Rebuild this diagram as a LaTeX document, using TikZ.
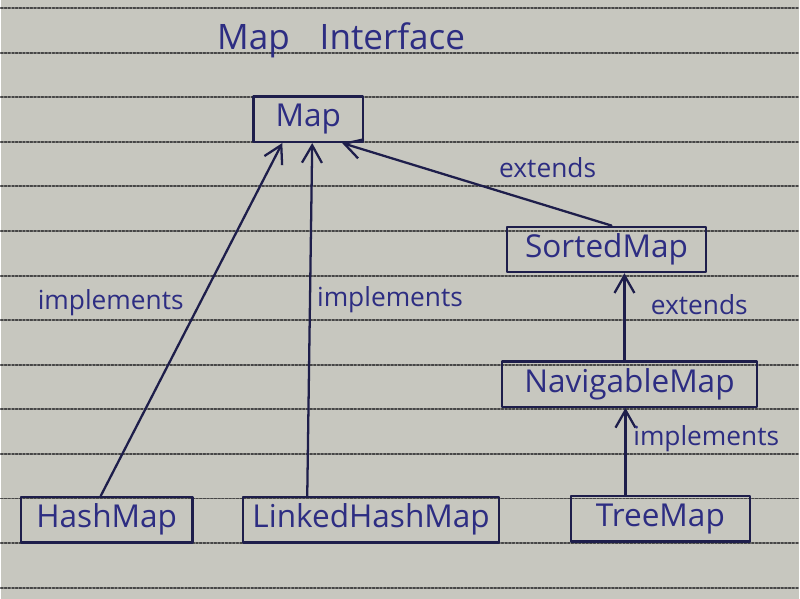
\documentclass[tikz,border=0pt]{standalone}
\usepackage{fontspec}
\setmainfont{Open Sans}
\usetikzlibrary{arrows.meta}
\definecolor{paper}{RGB}{199,199,191}
\definecolor{ink}{RGB}{30,30,75}
\definecolor{pen}{RGB}{45,45,130}
\definecolor{rule}{RGB}{70,70,70}
\tikzset{
  cls/.style={draw=ink, line width=1.3pt, inner sep=0pt, minimum height=0.91cm, text=pen, font=\fontsize{18}{20}\selectfont},
  rel/.style={text=pen, font=\fontsize{15}{17}\selectfont},
  arr/.style={draw=ink, line width=1.3pt, -{Straight Barb[length=3.5mm, width=4mm]}}
}
\begin{document}
\begin{tikzpicture}[x=0.02cm, y=-0.02cm, line join=round, line cap=round]
			\fill[paper] (0,0) rectangle (800,600);
			\foreach \i in {0,...,13}
			\draw[rule, densely dotted, line width=1.1pt] (0,{8+44.7*\i})--(800,{8+44.7*\i});
			\node[text=pen, font=\fontsize{20}{22}\selectfont] (title) at (341,40) {Map\hspace{0.6cm}Interface};
			\node[cls, minimum width=2.2cm] (map) at (308,119.5) {Map};
			\node[cls, minimum width=4cm] (sorted) at (607,250) {SortedMap};
			\node[cls, minimum width=5.12cm] (nav) at (630,385) {NavigableMap};
			\node[cls, minimum width=3.44cm] (hash) at (106,521) {HashMap};
			\node[cls, minimum width=5.14cm] (lhm) at (371,521) {LinkedHashMap};
			\node[cls, minimum width=3.58cm] (tree) at (661,520) {TreeMap};
			\draw[arr] ([xshift=-0.12cm]hash.north) -- ([xshift=-0.52cm]map.south);
			\draw[arr] ([xshift=-1.28cm]lhm.north) -- ([xshift=0.08cm]map.south);
			\draw[arr] ([xshift=0.1cm]sorted.north) -- ([xshift=0.68cm]map.south);
			\draw[arr] ([xshift=-0.1cm]nav.north) -- ([xshift=-0.1cm]nav.north |- sorted.south);
			\draw[arr] ([xshift=-0.7cm]tree.north) -- ([xshift=-0.7cm]tree.north |- nav.south);
			\node[rel] (l1) at (110,303) {implements};
			\node[rel] (l2) at (390,300) {implements};
			\node[rel] (l3) at (548,168) {extends};
			\node[rel] (l4) at (700,305) {extends};
			\node[rel] (l5) at (707,440) {implements};
\end{tikzpicture}
\end{document}
